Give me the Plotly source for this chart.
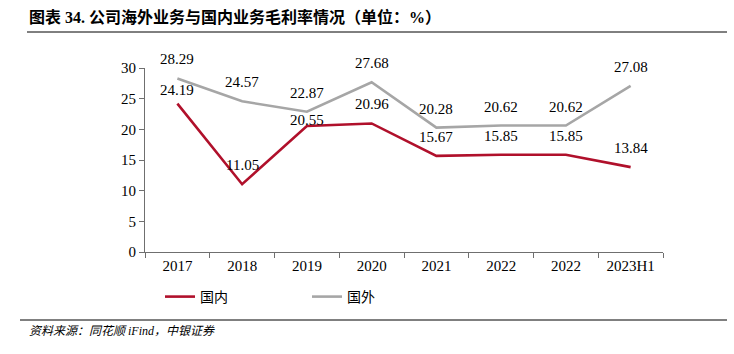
import plotly.graph_objects as go

categories = ["2017", "2018", "2019", "2020", "2021", "2022", "2022", "2023H1"]
domestic = [24.19, 11.05, 20.55, 20.96, 15.67, 15.85, 15.85, 13.84]
overseas = [28.29, 24.57, 22.87, 27.68, 20.28, 20.62, 20.62, 27.08]
y_ticks = [0, 5, 10, 15, 20, 25, 30]

# label vertical offsets in px (style)
dom_shift = [14, 19, 6, 19, 19, 19, 19, 19]
ovs_shift = [19, 19, 19, 19, 19, 19, 19, 19]

W, H = 734, 354
L, R, T, B = 145, 663, 68, 252


def px(x):
    return (x - L) / (R - L)


def py(y):
    return (B - y) / (B - T)


RED = "#B0102B"
GRAY = "#A6A6A6"
SERIF = "Liberation Serif, Noto Sans CJK SC"

xs = list(range(len(categories)))

fig = go.Figure()
fig.add_trace(go.Scatter(x=xs, y=domestic, name="国内", mode="lines",
                         line=dict(color=RED, width=2.6)))
fig.add_trace(go.Scatter(x=xs, y=overseas, name="国外", mode="lines",
                         line=dict(color=GRAY, width=2.6)))
# invisible trace for boundary ticks on xaxis2
fig.add_trace(go.Scatter(x=[-0.5, len(categories) - 0.5], y=[0, 0], xaxis="x2",
                         mode="lines", line=dict(width=0), showlegend=False,
                         hoverinfo="skip"))

annotations = []
for i, v in enumerate(overseas):
    annotations.append(dict(x=xs[i], y=v, xref="x", yref="y", text=f"{v:.2f}",
                            showarrow=False, yshift=ovs_shift[i], yanchor="middle",
                            font=dict(family=SERIF, size=15, color="#000")))
for i, v in enumerate(domestic):
    annotations.append(dict(x=xs[i], y=v, xref="x", yref="y", text=f"{v:.2f}",
                            showarrow=False, yshift=dom_shift[i], yanchor="middle",
                            font=dict(family=SERIF, size=15, color="#000")))

annotations.append(dict(x=px(27), y=py(17), xref="paper", yref="paper",
                        xanchor="left", yanchor="middle", showarrow=False,
                        text="<b>图表 34. 公司海外业务与国内业务毛利率情况（单位：%）</b>",
                        font=dict(family=SERIF, size=16, color="#000")))
annotations.append(dict(x=px(27), y=py(331), xref="paper", yref="paper",
                        xanchor="left", yanchor="middle", showarrow=False,
                        text="<i>资料来源：同花顺 iFind，中银证券</i>",
                        font=dict(family=SERIF, size=12, color="#000")))

shapes = [
    dict(type="line", xref="paper", yref="paper", x0=px(27), x1=px(727),
         y0=py(32), y1=py(32), line=dict(color="#000", width=1)),
    dict(type="line", xref="paper", yref="paper", x0=px(20), x1=px(727),
         y0=py(320), y1=py(320), line=dict(color="#000", width=1)),
]

fig.update_layout(
    width=W, height=H,
    margin=dict(l=L, r=W - R, t=T, b=H - B),
    paper_bgcolor="white", plot_bgcolor="white",
    showlegend=True,
    legend=dict(orientation="h", x=px(160), y=py(297), xanchor="left",
                yanchor="middle", entrywidth=102, itemwidth=30,
                font=dict(family=SERIF, size=14, color="#000"),
                bgcolor="rgba(0,0,0,0)"),
    xaxis=dict(range=[-0.5, len(categories) - 0.5], tickmode="array",
               tickvals=xs, ticktext=categories, ticks="", showgrid=False,
               zeroline=False, showline=True, linecolor="#6f6f6f", linewidth=1,
               tickfont=dict(family=SERIF, size=15, color="#000")),
    xaxis2=dict(range=[-0.5, len(categories) - 0.5], overlaying="x",
                tickmode="array",
                tickvals=[i - 0.5 for i in range(len(categories) + 1)],
                ticks="outside", ticklen=5, tickcolor="#6f6f6f",
                showticklabels=False, showgrid=False, zeroline=False,
                side="bottom", matches=None),
    yaxis=dict(range=[0, 30], tickmode="array", tickvals=y_ticks,
               ticks="outside", ticklen=5, tickcolor="#6f6f6f",
               showgrid=False, zeroline=False, showline=True,
               linecolor="#6f6f6f", linewidth=1,
               tickfont=dict(family=SERIF, size=15, color="#000")),
    annotations=annotations,
    shapes=shapes,
)

fig.write_html("out.html")
